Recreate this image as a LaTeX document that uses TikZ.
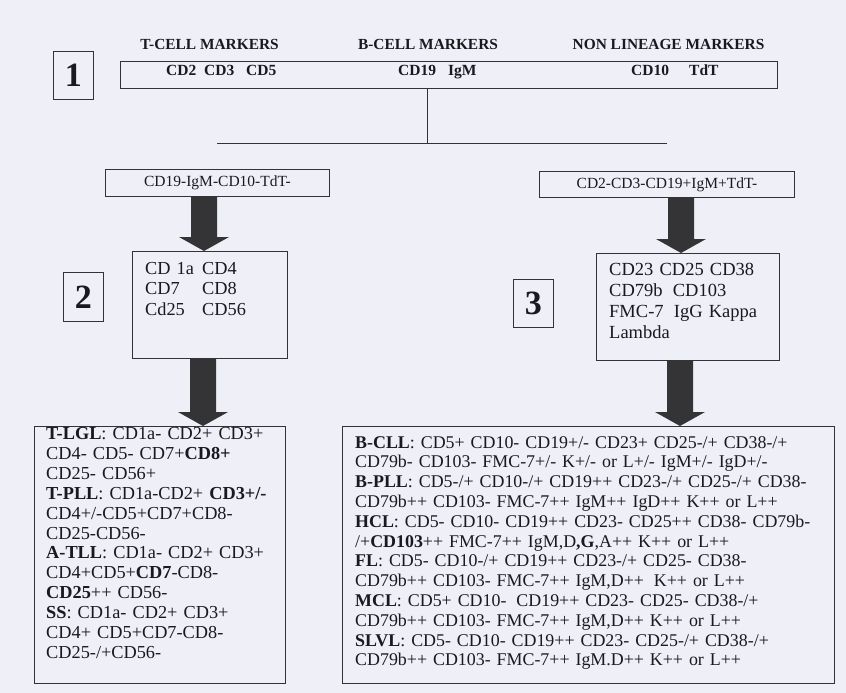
\documentclass[tikz,border=0pt]{standalone}
\usepackage{fontspec}
\setmainfont{Liberation Serif}
\usetikzlibrary{calc}
\definecolor{bgcol}{RGB}{239,240,247}
\definecolor{linecol}{RGB}{50,50,55}
\definecolor{arrowcol}{RGB}{52,52,55}
\definecolor{txtcol}{RGB}{25,25,30}
\newcommand{\fatarrow}[2]{%
  \fill[arrowcol] ($(#1)+(-13,0)$) -- ($(#2)+(-13,-14)$) -- ($(#2)+(-25,-14)$) -- (#2)
    -- ($(#2)+(25,-14)$) -- ($(#2)+(13,-14)$) -- ($(#1)+(13,0)$) -- cycle;}
\begin{document}
\begin{tikzpicture}[x=1pt,y=-1pt,
  box/.style={draw=linecol, line width=0.9pt, inner sep=0pt, anchor=north west, text=txtcol},
  numbox/.style={box, minimum width=40pt, minimum height=48pt, font=\fontsize{34}{34}\selectfont\bfseries},
  hdr/.style={text=txtcol, inner sep=0pt, anchor=base, font=\fontsize{15.4}{18}\selectfont\bfseries},
  mk/.style={text=txtcol, inner sep=0pt, anchor=base west, font=\fontsize{15.5}{18}\selectfont\bfseries},
  smallbox/.style={box, font=\fontsize{15.5}{18}\selectfont},
  body/.style={text=txtcol, inner sep=0pt, anchor=base west, align=left},
  conn/.style={draw=linecol, line width=0.9pt},
]
\useasboundingbox (0,0) rectangle (846,693);
\fill[bgcol] (0,0) rectangle (846,693);

% headers
\node[hdr] (h1) at (209.5,49) {T-CELL MARKERS};
\node[hdr] (h2) at (428,49) {B-CELL MARKERS};
\node[hdr] (h3) at (668.5,49) {NON LINEAGE MARKERS};

% level 1
\node[numbox] (n1) at (53,51) {1};
\node[box, minimum width=657pt, minimum height=27pt] (top) at (120,61) {};
\node[mk] (m1) at (166,76) {CD2};
\node[mk] (m2) at (204,76) {CD3};
\node[mk] (m3) at (246,76) {CD5};
\node[mk] (m4) at (398,76) {CD19};
\node[mk] (m5) at (448,76) {IgM};
\node[mk] (m6) at (631,76) {CD10};
\node[mk] (m7) at (689,76) {TdT};

\coordinate (split) at (427,143);
\coordinate (hl) at (217,143);
\coordinate (hr) at (667,143);
\draw[conn] (top.south -| split) -- (split);
\draw[conn] (hl) -- (hr);

% level 2 small boxes
\node[smallbox, minimum width=224pt, minimum height=27pt] (ls) at (105,169) {CD19-IgM-CD10-TdT-};
\node[smallbox, minimum width=255pt, minimum height=26pt] (rs) at (539,171) {CD2-CD3-CD19+IgM+TdT-};

% middle boxes
\node[box, minimum width=155pt, minimum height=107pt] (lm) at (132,251) {};
\node[body, text width=135pt, font=\fontsize{18.3}{20.5}\selectfont] (lmt) at (145,274)
  {\makebox[57pt][l]{CD 1a}CD4\\ \makebox[57pt][l]{CD7}CD8\\ \makebox[57pt][l]{Cd25}CD56};
\node[numbox, minimum height=49pt] (n2) at (63,272) {2};

\node[box, minimum width=183pt, minimum height=107pt] (rm) at (596,253) {};
\node[body, text width=165pt, font=\fontsize{18.5}{21.3}\selectfont] (rmt) at (609,275)
  {CD23 CD25 CD38\\ CD79b\hspace{4pt} CD103\\ FMC-7\hspace{4pt} IgG Kappa\\ Lambda};
\node[numbox] (n3) at (513,279) {3};

% bottom boxes
\node[box, minimum width=251pt, minimum height=257pt] (lb) at (34,426) {};
\node[body, text width=236pt, font=\fontsize{18.3}{19.9}\selectfont] (lbt) at (46,439.5)
  {\textbf{T-LGL}: CD1a- CD2+ CD3+\\
   CD4- CD5- CD7+\textbf{CD8+}\\
   CD25- CD56+\\
   \textbf{T-PLL}: CD1a-CD2+ \textbf{CD3+/-}\\
   CD4+/-CD5+CD7+CD8-\\
   CD25-CD56-\\
   \textbf{A-TLL}: CD1a- CD2+ CD3+\\
   CD4+CD5+\textbf{CD7}-CD8-\\
   \textbf{CD25}++ CD56-\\
   \textbf{SS}: CD1a- CD2+ CD3+\\
   CD4+ CD5+CD7-CD8-\\
   CD25-/+CD56-};

\node[box, minimum width=492pt, minimum height=257pt] (rb) at (342,426) {};
\node[body, text width=475pt, font=\fontsize{17.9}{19.8}\selectfont] (rbt) at (355,448)
  {\textbf{B-CLL}: CD5+ CD10- CD19+/- CD23+ CD25-/+ CD38-/+\\
   CD79b- CD103- FMC-7+/- K+/- or L+/- IgM+/- IgD+/-\\
   \textbf{B-PLL}: CD5-/+ CD10-/+ CD19++ CD23-/+ CD25-/+ CD38-\\
   CD79b++ CD103- FMC-7++ IgM++ IgD++ K++ or L++\\
   \textbf{HCL}: CD5- CD10- CD19++ CD23- CD25++ CD38- CD79b-\\
   /+\textbf{CD103}++ FMC-7++ IgM,D\textbf{,G},A++ K++ or L++\\
   \textbf{FL}: CD5- CD10-/+ CD19++ CD23-/+ CD25- CD38-\\
   CD79b++ CD103- FMC-7++ IgM,D++\hspace{4pt} K++ or L++\\
   \textbf{MCL}: CD5+ CD10-\hspace{4pt} CD19++ CD23- CD25- CD38-/+\\
   CD79b++ CD103- FMC-7++ IgM,D++ K++ or L++\\
   \textbf{SLVL}: CD5- CD10- CD19++ CD23- CD25-/+ CD38-/+\\
   CD79b++ CD103- FMC-7++ IgM.D++ K++ or L++};

% fat arrows
\coordinate (ax1) at (204,0);
\coordinate (ax2) at (681,0);
\coordinate (ax3) at (203,0);
\coordinate (ax4) at (680,0);
\fatarrow{ls.south -| ax1}{lm.north -| ax1}
\fatarrow{rs.south -| ax2}{rm.north -| ax2}
\fatarrow{lm.south -| ax3}{lb.north -| ax3}
\fatarrow{rm.south -| ax4}{rb.north -| ax4}
\end{tikzpicture}
\end{document}
